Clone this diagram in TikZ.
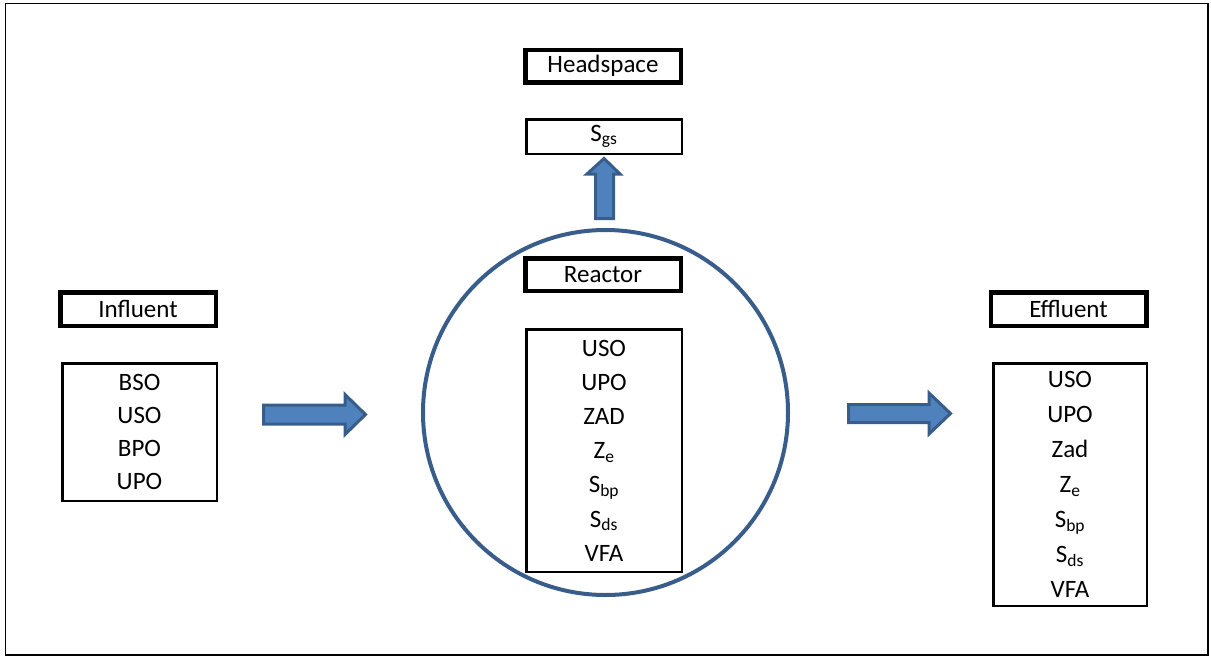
\documentclass[tikz,border=0pt]{standalone}
\usepackage{fontspec}
\setmainfont{Carlito}
\definecolor{arrowfill}{RGB}{79,129,189}
\definecolor{arrowdraw}{RGB}{56,93,138}
\definecolor{vessel}{RGB}{56,93,138}
\newcommand{\sbs}[1]{\textsubscript{#1}}
\begin{document}
\begin{tikzpicture}[x=1pt,y=-1pt,
  lbl/.style={draw, line width=4.5pt, inner sep=0pt, minimum width=155.5pt, minimum height=32.5pt, font=\fontsize{25}{30}\selectfont},
  lst/.style={draw, line width=2.5pt, inner sep=0pt, align=center},
  blockarrow/.style={fill=arrowfill, draw=arrowdraw, line width=3pt, line join=miter},
  frame/.style={draw, line width=1.5pt}]
\useasboundingbox (0,0) rectangle (1211,659);
\draw[frame] (5.5,3.5) rectangle (1208,655);
% reactor vessel
\node[draw=vessel, line width=4pt, circle, minimum size=365pt, inner sep=0pt] (vessel) at (605.5,412.5) {};
% headspace
\node[lbl] (head) at (603,66) {Headspace};
\node[lst, minimum width=155.5pt, minimum height=34.5pt, font=\fontsize{25}{30}\selectfont] (sgs) at (604,136.5) {S\sbs{gs}};
% reactor
\node[lbl] (reactor) at (603,274.5) {Reactor};
\node[lst, minimum width=155.5pt, minimum height=242.5pt, font=\fontsize{25}{34.2}\selectfont] (rlist) at (604,450.5)
  {USO\\UPO\\ZAD\\Z\sbs{e}\\S\sbs{bp}\\S\sbs{ds}\\VFA};
% influent
\node[lbl, minimum height=33.5pt] (influent) at (138,309) {Influent};
\node[lst, minimum width=154.5pt, minimum height=137.5pt, font=\fontsize{25}{32.7}\selectfont] (ilist) at (139.5,432)
  {BSO\\USO\\BPO\\UPO};
% effluent
\node[lbl, minimum height=33.5pt] (effluent) at (1068.5,309) {Effluent};
\node[lst, minimum width=153.5pt, minimum height=242.5pt, font=\fontsize{25}{35}\selectfont] (elist) at (1070,484.5)
  {USO\\UPO\\Zad\\Z\sbs{e}\\S\sbs{bp}\\S\sbs{ds}\\VFA};
% block arrows
\draw[blockarrow] (263.5,405) -- (345,405) -- (345,394.5) -- (365.5,414.5) -- (345,434.5) -- (345,424) -- (263.5,424) -- cycle;
\draw[blockarrow] (848.5,404.5) -- (929,404.5) -- (929,393) -- (950.5,413.5) -- (929,434) -- (929,422.5) -- (848.5,422.5) -- cycle;
\draw[blockarrow] (595.5,218.5) -- (595.5,174) -- (587,174) -- (604,158.5) -- (620,174) -- (613.5,174) -- (613.5,218.5) -- cycle;
\end{tikzpicture}
\end{document}
